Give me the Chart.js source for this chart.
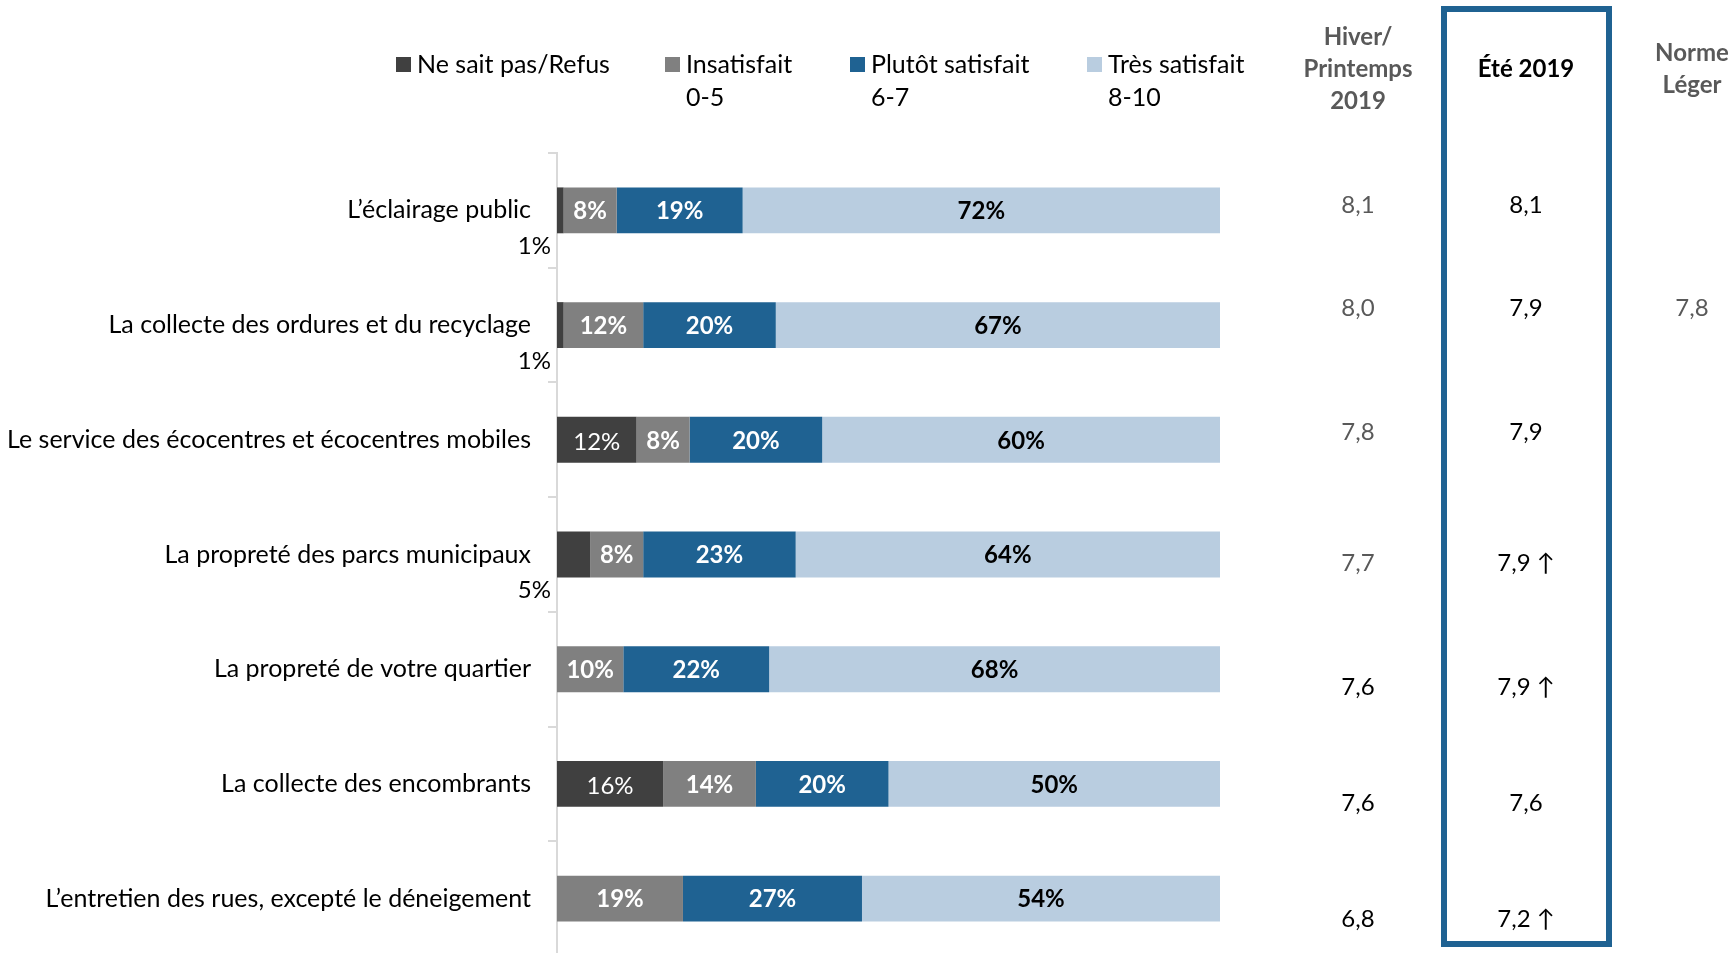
<!DOCTYPE html>
<html lang="fr">
<head>
<meta charset="utf-8">
<title>Satisfaction - services municipaux</title>
<script src="https://cdn.jsdelivr.net/npm/chart.js@4.4.1/dist/chart.umd.min.js"></script>
<style>
    html, body { margin: 0; padding: 0; background: #fff; overflow: hidden; }
    body { width: 1731px; height: 953px; position: relative; font-family: Lato, "DejaVu Sans", sans-serif; }
    #wrap { position: absolute; left: 0; top: 0; width: 1731px; height: 988px; }
    .leg { position: absolute; font-size: 25px; line-height: 33px; color: #000; white-space: nowrap; }
    .leg i { position: absolute; left: -21px; top: 10px; width: 15px; height: 15px; }
    .hdr { position: absolute; font-size: 24px; font-weight: bold; line-height: 32px; text-align: center; transform: translateX(-50%); white-space: nowrap; }
    #box { position: absolute; left: 1441px; top: 6px; width: 159px; height: 929px; border: 6px solid #1f6292; }
</style>
</head>
<body>
<div id="wrap"><canvas id="barChart" width="1731" height="988"></canvas></div>
<div id="box"></div>
<div id="legend"></div>
<div class="hdr" style="left:1358px; top:20px; color:#595959;">Hiver/<br>Printemps<br>2019</div>
<div class="hdr" style="left:1526px; top:52px; color:#000;">Été 2019</div>
<div class="hdr" style="left:1692px; top:36px; color:#595959;">Norme<br>Léger</div>
<script>
// Données
const categories = [
    'L\u2019éclairage public',
    'La collecte des ordures et du recyclage',
    'Le service des écocentres et écocentres mobiles',
    'La propreté des parcs municipaux',
    'La propreté de votre quartier',
    'La collecte des encombrants',
    'L\u2019entretien des rues, excepté le déneigement'
];
const seriesNames = ['Ne sait pas/Refus', 'Insatisfait', 'Plutôt satisfait', 'Très satisfait'];
const seriesRanges = ['', '0-5', '6-7', '8-10'];
const nspValues = [1, 1, 12, 5, 0, 16, 0];
const insatValues = [8, 12, 8, 8, 10, 14, 19];
const plutotValues = [19, 20, 20, 23, 22, 20, 27];
const tresValues = [72, 67, 60, 64, 68, 50, 54];
const hiverScores = ['8,1', '8,0', '7,8', '7,7', '7,6', '7,6', '6,8'];
const eteScores = ['8,1', '7,9', '7,9', '7,9', '7,9', '7,6', '7,2'];
const eteHausse = [false, false, false, true, true, false, true];
const normeScores = ['', '7,8', '', '', '', '', ''];

const colors = ['#404040', '#808080', '#1f6292', '#b9cde0'];
const labelColors = ['#fff', '#fff', '#fff', '#000'];

// Légende (HTML)
const legendX = [417, 686, 871, 1108];
const legend = document.getElementById('legend');
seriesNames.forEach((name, i) => {
    const d = document.createElement('div');
    d.className = 'leg';
    d.style.left = legendX[i] + 'px';
    d.style.top = '47px';
    d.innerHTML = '<i style="background:' + colors[i] + '"></i>' + name + (seriesRanges[i] ? '<br>' + seriesRanges[i] : '');
    legend.appendChild(d);
});

// Étiquettes des segments
const segmentLabels = {
    id: 'segmentLabels',
    afterDatasetsDraw(chart) {
        const ctx = chart.ctx;
        ctx.save();
        ctx.textBaseline = 'middle';
        chart.data.datasets.forEach((ds, di) => {
            chart.getDatasetMeta(di).data.forEach((el, i) => {
                const v = ds.data[i];
                if (!v) return;
                const text = v + '%';
                if (di === 0) {
                    ctx.font = '24px Lato';
                    if (v >= 10) {
                        ctx.fillStyle = '#fff';
                        ctx.textAlign = 'center';
                        ctx.fillText(text, (el.x + el.base) / 2, el.y + 2);
                    } else {
                        ctx.fillStyle = '#000';
                        ctx.textAlign = 'right';
                        ctx.fillText(text, chart.chartArea.left - 6, el.y + el.height / 2 + 13);
                    }
                    return;
                }
                ctx.font = 'bold 24px Lato';
                ctx.fillStyle = labelColors[di];
                ctx.textAlign = 'center';
                ctx.fillText(text, (el.x + el.base) / 2, el.y + 1);
            });
        });
        ctx.restore();
    }
};

// Colonnes de scores à droite
const rowShift = [-5, -17, -8, 9, 18, 19, 21];
const scoreColumns = {
    id: 'scoreColumns',
    afterDraw(chart) {
        const ctx = chart.ctx;
        const y = chart.scales.y;
        ctx.save();
        ctx.textBaseline = 'middle';
        ctx.textAlign = 'center';
        ctx.font = '24px Lato, "DejaVu Sans"';
        categories.forEach((c, i) => {
            const py = y.getPixelForValue(i) + rowShift[i];
            ctx.fillStyle = i < 4 ? '#595959' : '#000';
            ctx.fillText(hiverScores[i], 1358, py);
            ctx.fillStyle = '#000';
            ctx.fillText(eteScores[i] + (eteHausse[i] ? ' \u2191' : ''), 1526, py);
            if (normeScores[i]) {
                ctx.fillStyle = '#595959';
                ctx.fillText(normeScores[i], 1692, py);
            }
        });
        ctx.restore();
    }
};

new Chart(document.getElementById('barChart'), {
    type: 'bar',
    data: {
        labels: categories,
        datasets: [nspValues, insatValues, plutotValues, tresValues].map((d, i) => ({
            label: seriesNames[i],
            data: d,
            backgroundColor: colors[i],
            barPercentage: 0.4,
            categoryPercentage: 1
        }))
    },
    options: {
        indexAxis: 'y',
        responsive: false,
        animation: false,
        layout: { padding: { top: 153, bottom: 4, left: 0, right: 511 } },
        plugins: {
            legend: { display: false },
            tooltip: { enabled: false }
        },
        scales: {
            x: { stacked: true, min: 0, max: 100, display: false },
            y: {
                stacked: true,
                afterFit(scale) { scale.width = 557; },
                border: { display: true, color: '#d9d9d9', width: 2 },
                grid: { offset: true, drawOnChartArea: false, drawTicks: true, tickLength: 9, color: '#d9d9d9', lineWidth: 2 },
                ticks: { color: '#000', padding: 17, font: { family: 'Lato', size: 25 } }
            }
        }
    },
    plugins: [segmentLabels, scoreColumns]
});
</script>
</body>
</html>
